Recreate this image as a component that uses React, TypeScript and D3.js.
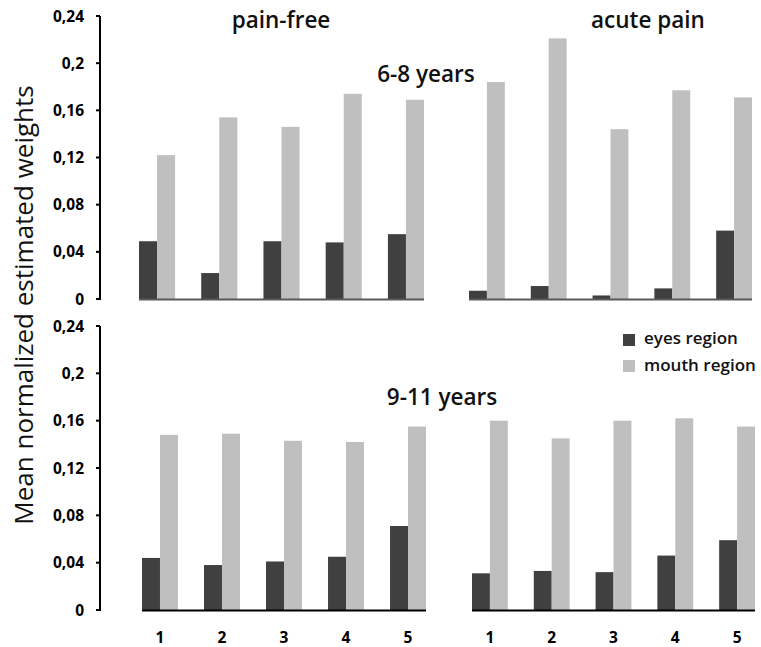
import React from "react";
import * as d3 from "d3";

const categories = ["1", "2", "3", "4", "5"];
const yTicks = [0, 0.04, 0.08, 0.12, 0.16, 0.2, 0.24];
const tickLabels = ["0", "0,04", "0,08", "0,12", "0,16", "0,2", "0,24"];

// 6-8 years
const eyesYoungPainFree = [0.049, 0.022, 0.049, 0.048, 0.055];
const mouthYoungPainFree = [0.122, 0.154, 0.146, 0.174, 0.169];
const eyesYoungAcute = [0.007, 0.011, 0.003, 0.009, 0.058];
const mouthYoungAcute = [0.184, 0.221, 0.144, 0.177, 0.171];
// 9-11 years
const eyesOldPainFree = [0.044, 0.038, 0.041, 0.045, 0.071];
const mouthOldPainFree = [0.148, 0.149, 0.143, 0.142, 0.155];
const eyesOldAcute = [0.031, 0.033, 0.032, 0.046, 0.059];
const mouthOldAcute = [0.160, 0.145, 0.160, 0.162, 0.155];

const DARK = "#404040";
const LIGHT = "#bfbfbf";
const FONT = "'Open Sans', 'Noto Sans', sans-serif";

function Group({ x0, x1, y, eyes, mouth, baseColor }: any) {
  const xb = d3.scaleBand<string>().domain(categories).range([x0, x1]).paddingInner(0.42).paddingOuter(0);
  const xs = d3.scaleBand<string>().domain(["e", "m"]).range([0, xb.bandwidth()]);
  const [yb] = y.range();
  return (
    <g>
      {categories.map((c, i) => (
        <g key={c} transform={`translate(${xb(c)},0)`}>
          <rect x={xs("e")} width={xs.bandwidth()} y={y(eyes[i])} height={yb - y(eyes[i])} fill={DARK} />
          <rect x={xs("m")} width={xs.bandwidth()} y={y(mouth[i])} height={yb - y(mouth[i])} fill={LIGHT} />
        </g>
      ))}
      <line x1={x0} x2={x1} y1={yb + 0.5} y2={yb + 0.5} stroke={baseColor} strokeWidth={2} />
    </g>
  );
}

function YAxis({ y }: any) {
  const [yb, yt] = y.range();
  return (
    <g>
      <line x1={100} x2={100} y1={yt} y2={yb + 1} stroke="#000" strokeWidth={2} />
      {yTicks.map((t, i) => (
        <g key={t}>
          <line x1={96} x2={100} y1={y(t)} y2={y(t)} stroke="#000" strokeWidth={2} />
          <text x={84} y={y(t)} dy="0.36em" textAnchor="end" fontFamily={FONT} fontWeight="bold" fontSize={15.5} fill="#000">
            {tickLabels[i]}
          </text>
        </g>
      ))}
    </g>
  );
}

export default function App() {
  const yTop = d3.scaleLinear().domain([0, 0.24]).range([299, 16]);
  const yBot = d3.scaleLinear().domain([0, 0.24]).range([610, 326]);
  const xbBotLeft = d3.scaleBand<string>().domain(categories).range([142, 426]).paddingInner(0.42).paddingOuter(0);
  const xbBotRight = d3.scaleBand<string>().domain(categories).range([472, 755]).paddingInner(0.42).paddingOuter(0);
  const titleProps = { fontFamily: FONT, fontSize: 22.5, fontWeight: 600, fill: "#111" } as any;
  const legendProps = { fontFamily: FONT, fontSize: 17, fontWeight: 600, fill: "#111" } as any;
  return (
    <svg width={761} height={647} style={{ position: "absolute", left: 0, top: 0, background: "#fff" }}>
      <rect width={761} height={647} fill="#fff" />
      <YAxis y={yTop} />
      <YAxis y={yBot} />
      <Group x0={139} x1={424} y={yTop} eyes={eyesYoungPainFree} mouth={mouthYoungPainFree} baseColor="#595959" />
      <Group x0={469} x1={752} y={yTop} eyes={eyesYoungAcute} mouth={mouthYoungAcute} baseColor="#595959" />
      <Group x0={142} x1={426} y={yBot} eyes={eyesOldPainFree} mouth={mouthOldPainFree} baseColor="#000" />
      <Group x0={472} x1={755} y={yBot} eyes={eyesOldAcute} mouth={mouthOldAcute} baseColor="#000" />
      {categories.map((c) => (
        <g key={c}>
          <text x={(xbBotLeft(c) as number) + xbBotLeft.bandwidth() / 2} y={643} textAnchor="middle" fontFamily={FONT} fontWeight="bold" fontSize={15.5} fill="#000">{c}</text>
          <text x={(xbBotRight(c) as number) + xbBotRight.bandwidth() / 2} y={643} textAnchor="middle" fontFamily={FONT} fontWeight="bold" fontSize={15.5} fill="#000">{c}</text>
        </g>
      ))}
      <text x={281} y={28} textAnchor="middle" {...titleProps}>pain-free</text>
      <text x={648} y={28} textAnchor="middle" {...titleProps}>acute pain</text>
      <text x={426} y={82} textAnchor="middle" {...titleProps}>6-8 years</text>
      <text x={442} y={405} textAnchor="middle" {...titleProps}>9-11 years</text>
      <rect x={623} y={334} width={12} height={12} fill={DARK} />
      <text x={644} y={344} {...legendProps}>eyes region</text>
      <rect x={623} y={360} width={12} height={12} fill={LIGHT} />
      <text x={644} y={371} {...legendProps}>mouth region</text>
      <text transform="translate(33,305) rotate(-90)" textAnchor="middle" fontFamily={FONT} fontSize={26} fill="#111">Mean normalized estimated weights</text>
    </svg>
  );
}
